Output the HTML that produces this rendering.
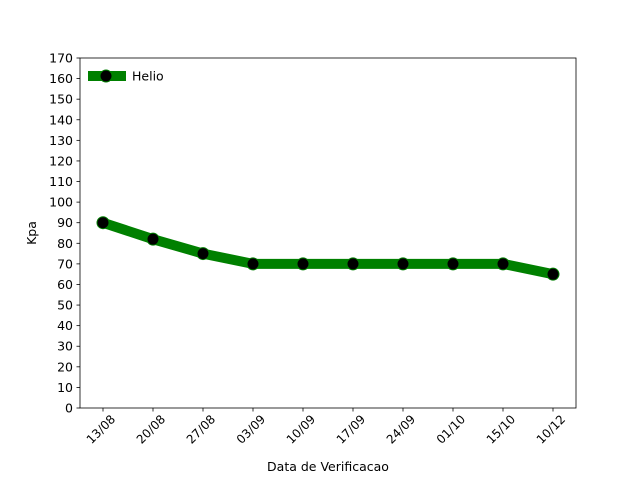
<!DOCTYPE html>
<html><head><meta charset="utf-8"><style>
body{margin:0;background:#fff}
svg{font-family:"DejaVu Sans","Liberation Sans",sans-serif}
</style></head><body>
<svg id="c" width="640" height="480" xmlns="http://www.w3.org/2000/svg"></svg>
<script>
const categories=["13/08","20/08","27/08","03/09","10/09","17/09","24/09","01/10","15/10","10/12"];
const values=[90,82,75,70,70,70,70,70,70,65];
const yTicks=[0,10,20,30,40,50,60,70,80,90,100,110,120,130,140,150,160,170];
const L=80,R=576,T=58,B=408,yMax=170;
const svg=document.getElementById('c');
const NS='http://www.w3.org/2000/svg';
function el(t,a,p){const e=document.createElementNS(NS,t);for(const k in a)e.setAttribute(k,a[k]);(p||svg).appendChild(e);return e;}
const step=(R-L)/(categories.length-1+0.92);
const x=i=>L+step*0.46+i*step;
const y=v=>B-(v/yMax)*(B-T);
yTicks.forEach(v=>{
 const g=el('g',{});
 
 
 el('line',{x1:L-3.5,x2:L,y1:y(v),y2:y(v),stroke:'#000','stroke-width':0.8},g);
 const t=el('text',{x:L-7,y:y(v)+4.5,'text-anchor':'end','font-size':12.5},g);t.textContent=v;
});
categories.forEach((c,i)=>{
 const g=el('g',{});
 
 
 el('line',{x1:x(i),x2:x(i),y1:B,y2:B+3.5,stroke:'#000','stroke-width':0.8},g);
 const ax=x(i)+13, ay=B+12;
 const t=el('text',{x:ax,y:ay,'text-anchor':'end','font-size':12,transform:`rotate(-45 ${ax} ${ay})`},g);t.textContent=c;
});
const pts=values.map((v,i)=>x(i)+','+y(v)).join(' ');
const line=el('polyline',{points:pts,fill:'none',stroke:'#008000','stroke-width':10});


values.forEach((v,i)=>{
 const m=el('circle',{cx:x(i),cy:y(v),r:6,fill:'#000',stroke:'#008000','stroke-width':1});
 
 
});
const frame=el('rect',{x:L,y:T,width:R-L,height:B-T,fill:'none',stroke:'#000','stroke-width':0.8});


const xt=el('text',{x:(L+R)/2,y:471,'text-anchor':'middle','font-size':12.5});xt.textContent='Data de Verificacao';

const yt=el('text',{x:36,y:(T+B)/2,'text-anchor':'middle','font-size':12.5,transform:`rotate(-90 36 ${(T+B)/2})`});yt.textContent='Kpa';

const lg=el('g',{});


el('line',{x1:88,x2:126,y1:76,y2:76,stroke:'#008000','stroke-width':10},lg);
el('circle',{cx:106,cy:76,r:6,fill:'#000',stroke:'#008000','stroke-width':1},lg);
const lt=el('text',{x:132,y:80.5,'font-size':12.5},lg);lt.textContent='Helio';
</script>
</body></html>
